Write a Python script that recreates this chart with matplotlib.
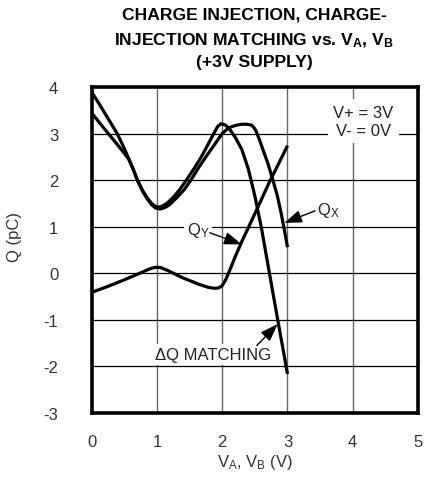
import matplotlib
matplotlib.use("Agg")
import matplotlib.pyplot as plt
from matplotlib import font_manager as fm

names = {f.name for f in fm.fontManager.ttflist}
NARROW = 'Liberation Sans Narrow' if 'Liberation Sans Narrow' in names else 'Liberation Sans'

plt.rcParams['font.family'] = [NARROW, 'DejaVu Sans']
plt.rcParams['mathtext.fontset'] = 'custom'
plt.rcParams['mathtext.rm'] = NARROW
plt.rcParams['mathtext.it'] = NARROW
plt.rcParams['mathtext.bf'] = NARROW + ':bold'

# ---- data ----
dq_x = [0.0, 0.1, 0.2, 0.3, 0.39, 0.48, 0.57, 0.64, 0.7, 0.78, 0.85, 0.92, 0.97, 1.02, 1.08, 1.15,
        1.25, 1.35, 1.45, 1.57, 1.68, 1.78, 1.87, 1.93, 1.98, 2.04, 2.1, 2.2, 2.3, 2.4, 2.5, 2.6,
        2.72, 2.82, 3.0]
dq_y = [3.89, 3.67, 3.44, 3.21, 3.0, 2.74, 2.45, 2.22, 2.0, 1.78, 1.62, 1.5, 1.44, 1.42, 1.44, 1.5,
        1.63, 1.8, 2.0, 2.25, 2.5, 2.76, 3.0, 3.15, 3.21, 3.19, 3.12, 2.92, 2.66, 2.24, 1.66, 0.98,
        0.03, -0.76, -2.16]

qx_x = [0.0, 0.15, 0.29, 0.43, 0.57, 0.64, 0.7, 0.78, 0.85, 0.92, 0.98, 1.05, 1.12, 1.2, 1.3, 1.42,
        1.52, 1.63, 1.75, 1.88, 2.0, 2.08, 2.15, 2.22, 2.3, 2.38, 2.45, 2.49, 2.52, 2.57, 2.62, 2.7,
        2.77, 2.84, 2.9, 2.95, 3.0]
qx_y = [3.44, 3.18, 2.94, 2.7, 2.45, 2.22, 2.0, 1.76, 1.6, 1.47, 1.4, 1.38, 1.41, 1.48, 1.62, 1.8,
        2.0, 2.25, 2.5, 2.76, 3.0, 3.1, 3.15, 3.18, 3.2, 3.2, 3.18, 3.12, 3.05, 2.87, 2.67, 2.36,
        2.03, 1.69, 1.31, 0.95, 0.56]

qy_x = [0.0, 0.25, 0.5, 0.75, 0.88, 0.95, 1.0, 1.06, 1.15, 1.4, 1.65, 1.78, 1.86, 1.93, 1.99, 2.05,
        2.12, 2.2, 2.3, 2.4, 2.55, 2.72, 2.87, 3.0]
qy_y = [-0.41, -0.28, -0.14, 0.01, 0.09, 0.12, 0.13, 0.12, 0.07, -0.1, -0.24, -0.3, -0.32, -0.32,
        -0.28, -0.15, 0.08, 0.36, 0.68, 0.98, 1.43, 1.95, 2.37, 2.74]

x_ticks = [0, 1, 2, 3, 4, 5]
y_ticks = [-3, -2, -1, 0, 1, 2, 3, 4]

W, H = 425, 481
fig = plt.figure(figsize=(W / 100, H / 100), dpi=100)
ax = fig.add_axes([91.7 / W, 1 - 414 / H, (418 - 91.7) / W, (414 - 88) / H])

ax.set_xlim(0, 5)
ax.set_ylim(-3, 4)

for xv in x_ticks[1:-1]:
    ax.axvline(xv, color='#666666', lw=1.0, zorder=1)
for yv in y_ticks[1:-1]:
    ax.axhline(yv, color='black', lw=0.9, zorder=1)

for xs, ys in [(dq_x, dq_y), (qx_x, qx_y), (qy_x, qy_y)]:
    ax.plot(xs, ys, color='black', lw=2.3, solid_joinstyle='round', solid_capstyle='butt', zorder=3)

for s in ax.spines.values():
    s.set_linewidth(2.6)
    s.set_color('black')

ax.set_xticks(x_ticks)
ax.set_yticks(y_ticks)
ax.set_xticklabels([str(v) for v in x_ticks])
ax.set_yticklabels([str(v) for v in y_ticks])
ax.tick_params(length=0, labelsize=12, labelcolor='#333333')
ax.tick_params(axis='x', pad=15)
ax.tick_params(axis='y', pad=24)
for lab in ax.get_yticklabels():
    lab.set_horizontalalignment('right')

# annotations
arrow = dict(arrowstyle='-|>,head_length=0.9,head_width=0.32', color='black', lw=1.0,
             mutation_scale=12, shrinkA=0, shrinkB=0)
bbox_w = dict(facecolor='white', edgecolor='none', pad=2)
ax.text(1.63, 0.95, r'$\mathrm{Q_Y}$', fontsize=12, color='#222222', ha='center', va='center',
        bbox=bbox_w, zorder=4)
ax.annotate('', xy=(2.30, 0.62), xytext=(1.81, 0.87), arrowprops=arrow, zorder=4)

ax.text(3.62, 1.38, r'$\mathrm{Q_X}$', fontsize=12, color='#222222', ha='center', va='center',
        bbox=bbox_w, zorder=4)
ax.annotate('', xy=(2.95, 1.08), xytext=(3.42, 1.34), arrowprops=arrow, zorder=4)

ax.text(1.86, -1.75, 'ΔQ MATCHING', fontsize=12, color='#222222', ha='center', va='center',
        bbox=bbox_w, zorder=4)
ax.annotate('', xy=(2.85, -1.09), xytext=(2.53, -1.55), arrowprops=arrow, zorder=4)

ax.text(4.16, 3.26, 'V+ = 3V\nV- = 0V', fontsize=12, color='#222222', ha='center', va='center',
        linespacing=1.25, bbox=dict(facecolor='white', edgecolor='none', pad=4), zorder=4)

# axis labels
fig.text(15 / W, 1 - 237 / H, 'Q (pC)', rotation=90, fontsize=12, color='#333333',
         ha='center', va='center')
fig.text(255 / W, 1 - 463 / H, r'$\mathrm{V_A}$, $\mathrm{V_B}$ (V)', fontsize=12, color='#333333',
         ha='center', va='center')

# title
tkw = dict(fontsize=12.6, fontweight='bold', ha='center', va='center', color='black')
fig.text(254 / W, 1 - 15 / H, 'CHARGE INJECTION, CHARGE-', **tkw)
fig.text(254 / W, 1 - 41 / H, r'INJECTION MATCHING vs. $\mathbf{V_A}$, $\mathbf{V_B}$', **tkw)
fig.text(254 / W, 1 - 63 / H, '(+3V SUPPLY)', **tkw)

fig.savefig('out.png', dpi=100)
